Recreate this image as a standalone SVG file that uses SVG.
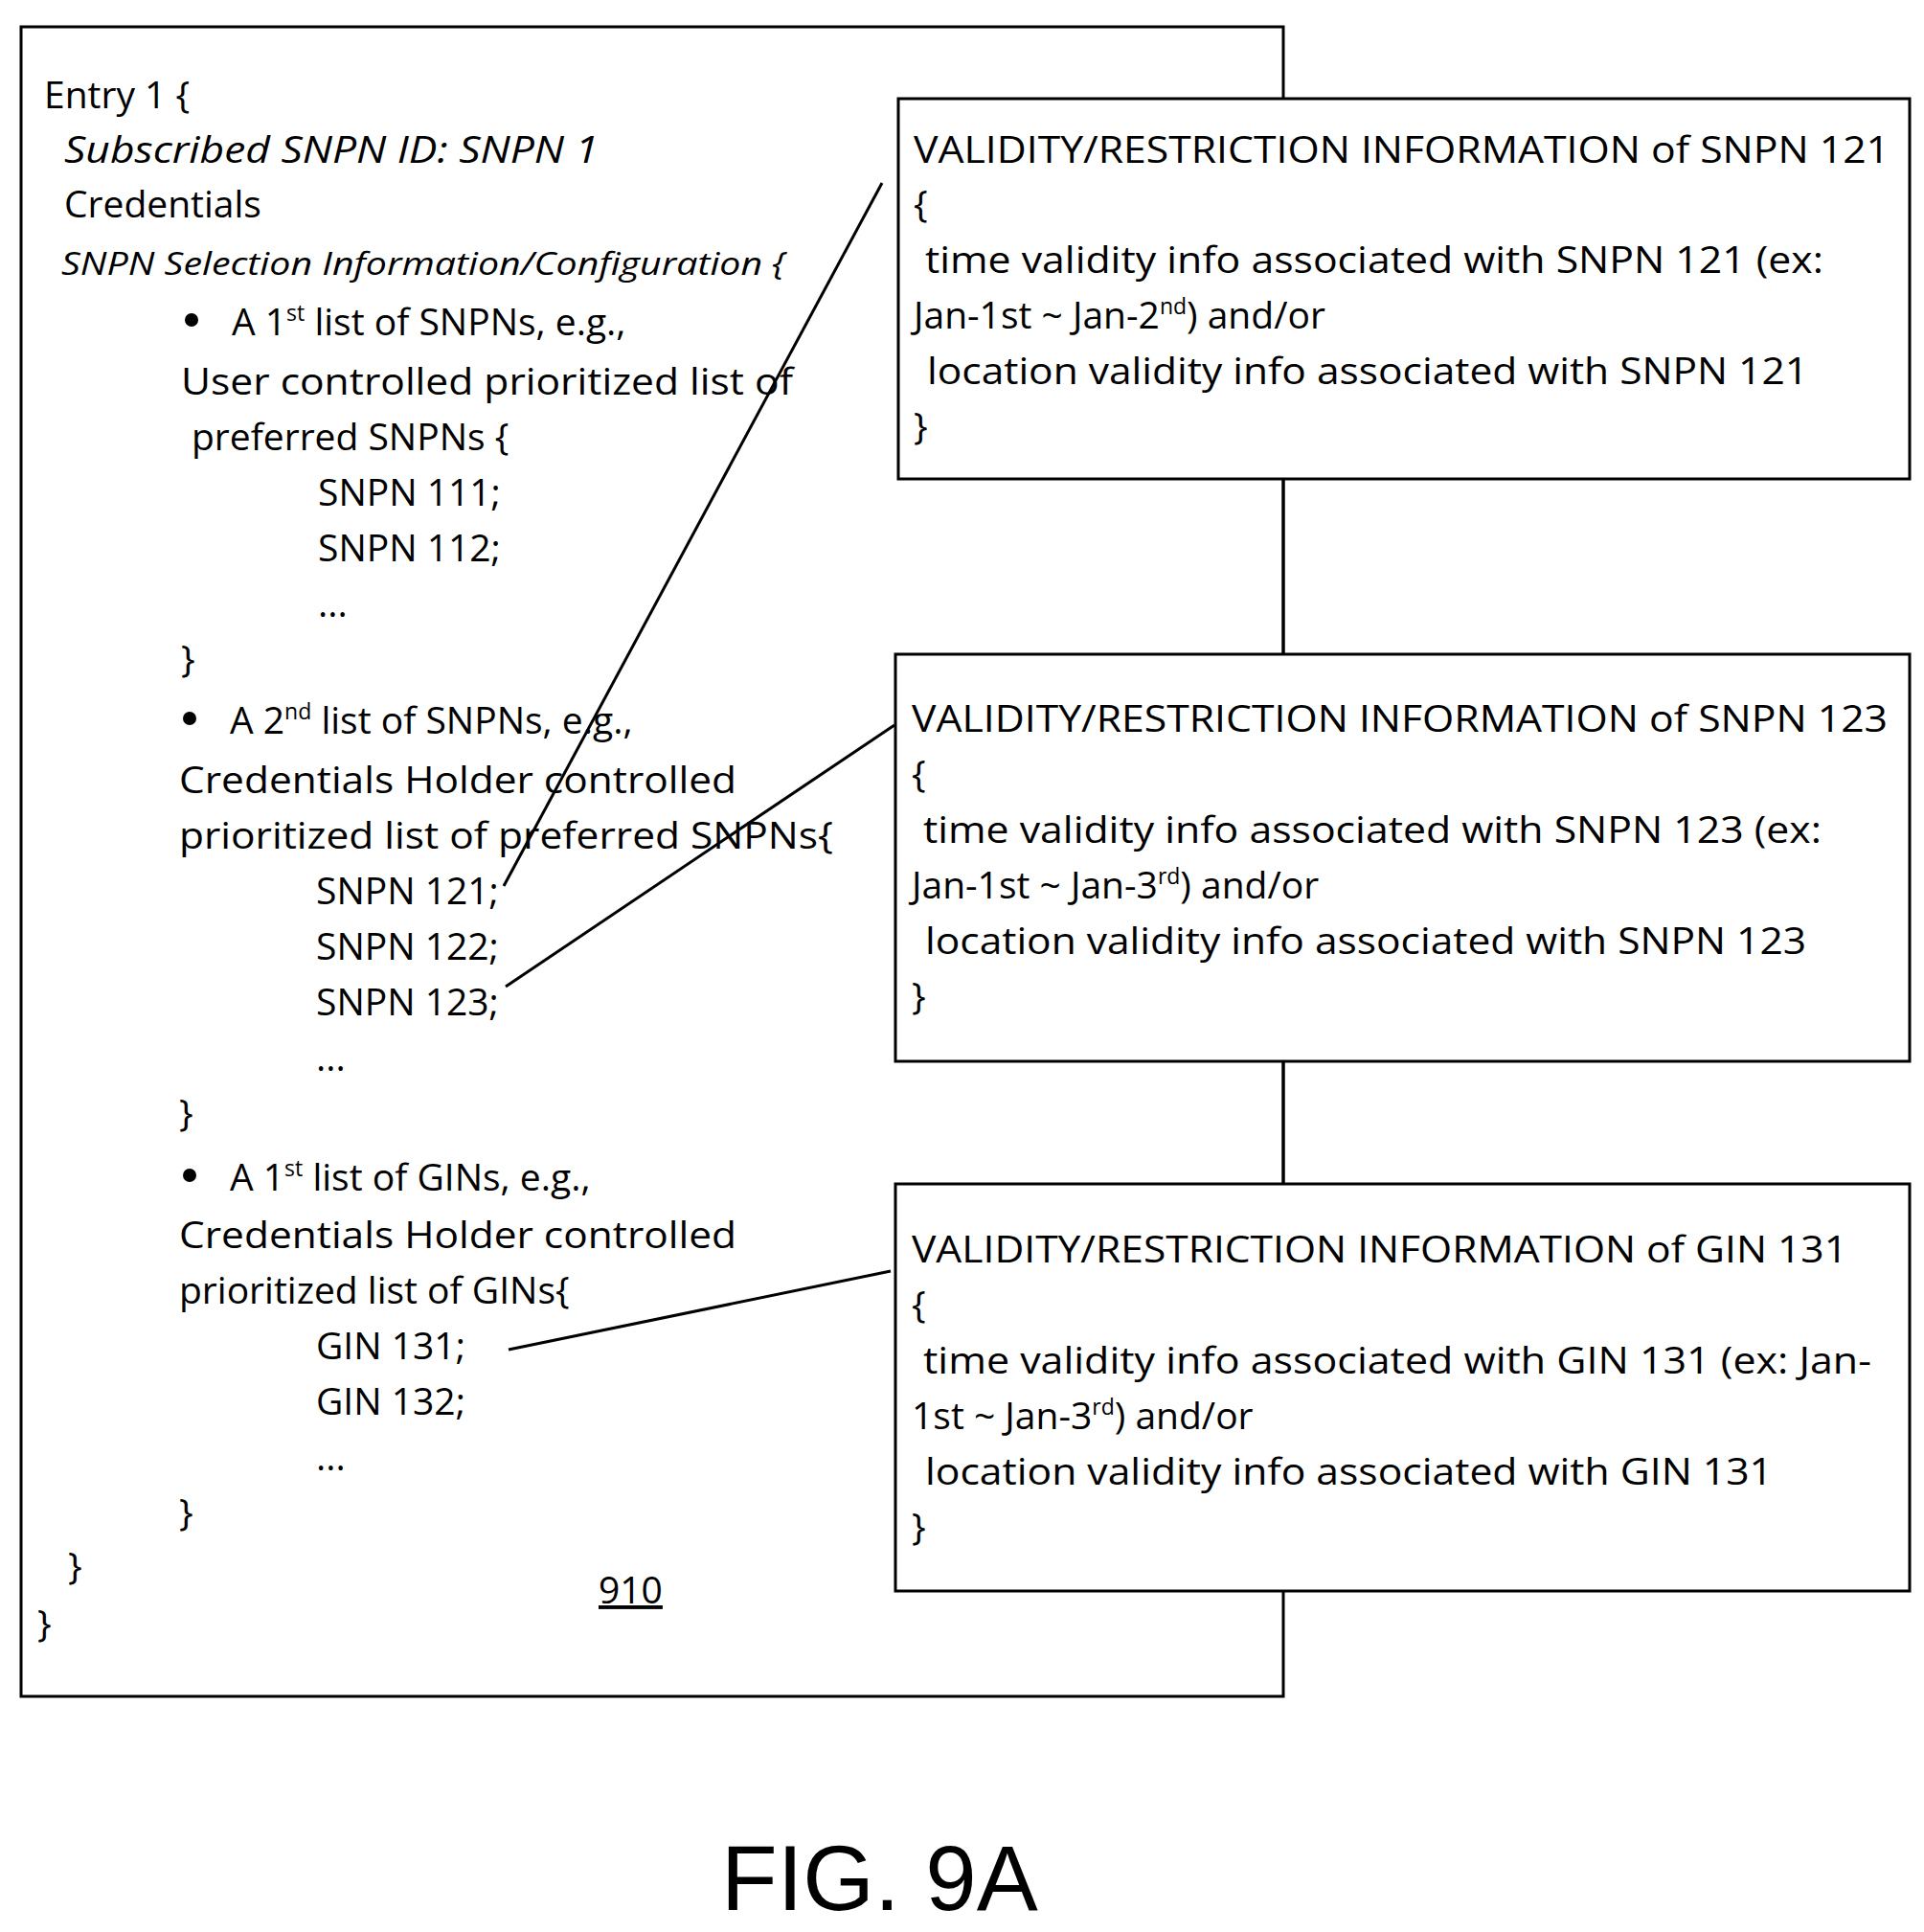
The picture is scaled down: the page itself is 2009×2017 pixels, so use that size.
<svg xmlns="http://www.w3.org/2000/svg" width="2009" height="2017" viewBox="0 0 2009 2017">
<style>
text{font-family:"Open Sans","Liberation Sans",sans-serif;font-size:39px;fill:#000}
.i{font-style:italic}
.s{font-size:23px}
.box{fill:#fff;stroke:#000;stroke-width:3}
.ln{stroke:#000;stroke-width:3;fill:none}
</style>
<rect width="2009" height="2017" fill="#fff"/>
<g id="main">
<rect class="box" x="22" y="28" width="1318" height="1743"/>
<text x="46" y="113">Entry 1 {</text>
<text class="i" x="67" y="170" textLength="558" lengthAdjust="spacingAndGlyphs">Subscribed SNPN ID: SNPN 1</text>
<text x="67" y="227">Credentials</text>
<text class="i" x="64" y="287" style="font-size:32px" textLength="756" lengthAdjust="spacingAndGlyphs">SNPN Selection Information/Configuration {</text>
<circle cx="200" cy="334" r="7"/>
<text x="242" y="350">A 1<tspan class="s" dy="-15">st</tspan><tspan dy="15"> list of SNPNs, e.g.,</tspan></text>
<text x="189" y="412" textLength="639" lengthAdjust="spacingAndGlyphs">User controlled prioritized list of</text>
<text x="200" y="470">preferred SNPNs {</text>
<text x="332" y="528">SNPN 111;</text>
<text x="332" y="586">SNPN 112;</text>
<text x="332" y="644">...</text>
<text x="189" y="702">}</text>
<circle cx="198" cy="750" r="7"/>
<text x="240" y="766">A 2<tspan class="s" dy="-15">nd</tspan><tspan dy="15">  list of SNPNs, e.g.,</tspan></text>
<text x="187" y="828" textLength="582" lengthAdjust="spacingAndGlyphs">Credentials Holder controlled</text>
<text x="187" y="886" textLength="683" lengthAdjust="spacingAndGlyphs">prioritized list of preferred SNPNs{</text>
<text x="330" y="944">SNPN 121;</text>
<text x="330" y="1002">SNPN 122;</text>
<text x="330" y="1060">SNPN 123;</text>
<text x="330" y="1118">...</text>
<text x="187" y="1176">}</text>
<circle cx="198" cy="1227" r="7"/>
<text x="240" y="1243">A 1<tspan class="s" dy="-15">st</tspan><tspan dy="15"> list of GINs, e.g.,</tspan></text>
<text x="187" y="1303" textLength="582" lengthAdjust="spacingAndGlyphs">Credentials Holder controlled</text>
<text x="187" y="1361">prioritized list of GINs{</text>
<text x="330" y="1419">GIN 131;</text>
<text x="330" y="1477">GIN 132;</text>
<text x="330" y="1535">...</text>
<text x="187" y="1593">}</text>
<text x="71" y="1649">}</text>
<text x="625" y="1674" text-decoration="underline">910</text>
<text x="39" y="1709">}</text>
</g>
<g id="connectors">
<line class="ln" x1="1340" y1="500" x2="1340" y2="683"/>
<line class="ln" x1="1340" y1="1108" x2="1340" y2="1236"/>
<line class="ln" x1="921" y1="191" x2="526" y2="925"/>
<line class="ln" x1="934" y1="757" x2="528" y2="1030"/>
<line class="ln" x1="930" y1="1327" x2="531" y2="1409"/>
</g>
<g id="box121">
<rect class="box" x="938" y="103" width="1056" height="397"/>
<text x="954" y="170" textLength="1019" lengthAdjust="spacingAndGlyphs">VALIDITY/RESTRICTION INFORMATION of SNPN 121</text>
<text x="954" y="227">{</text>
<text x="966" y="285" textLength="938" lengthAdjust="spacingAndGlyphs">time validity info associated with SNPN 121 (ex:</text>
<text x="954" y="343">Jan-1st ~ Jan-2<tspan class="s" dy="-15">nd</tspan><tspan dy="15">) and/or</tspan></text>
<text x="968" y="401" textLength="920" lengthAdjust="spacingAndGlyphs">location validity info associated with SNPN 121</text>
<text x="954" y="459">}</text>
</g>
<g id="box123">
<rect class="box" x="935" y="683" width="1059" height="425"/>
<text x="952" y="764" textLength="1019" lengthAdjust="spacingAndGlyphs">VALIDITY/RESTRICTION INFORMATION of SNPN 123</text>
<text x="952" y="822">{</text>
<text x="964" y="880" textLength="938" lengthAdjust="spacingAndGlyphs">time validity info associated with SNPN 123 (ex:</text>
<text x="952" y="938">Jan-1st ~ Jan-3<tspan class="s" dy="-15">rd</tspan><tspan dy="15">) and/or</tspan></text>
<text x="966" y="996" textLength="920" lengthAdjust="spacingAndGlyphs">location validity info associated with SNPN 123</text>
<text x="952" y="1054">}</text>
</g>
<g id="gin131">
<rect class="box" x="935" y="1236" width="1059" height="425"/>
<text x="952" y="1318" textLength="977" lengthAdjust="spacingAndGlyphs">VALIDITY/RESTRICTION INFORMATION of GIN 131</text>
<text x="952" y="1376">{</text>
<text x="964" y="1434" textLength="990" lengthAdjust="spacingAndGlyphs">time validity info associated with GIN 131 (ex: Jan-</text>
<text x="952" y="1492">1st ~ Jan-3<tspan class="s" dy="-15">rd</tspan><tspan dy="15">) and/or</tspan></text>
<text x="966" y="1550" textLength="885" lengthAdjust="spacingAndGlyphs">location validity info associated with GIN 131</text>
<text x="952" y="1608">}</text>
</g>
<text x="753" y="1994" style="font-family:'Liberation Sans',Arial,sans-serif;font-size:96px">FIG. 9A</text>
</svg>
